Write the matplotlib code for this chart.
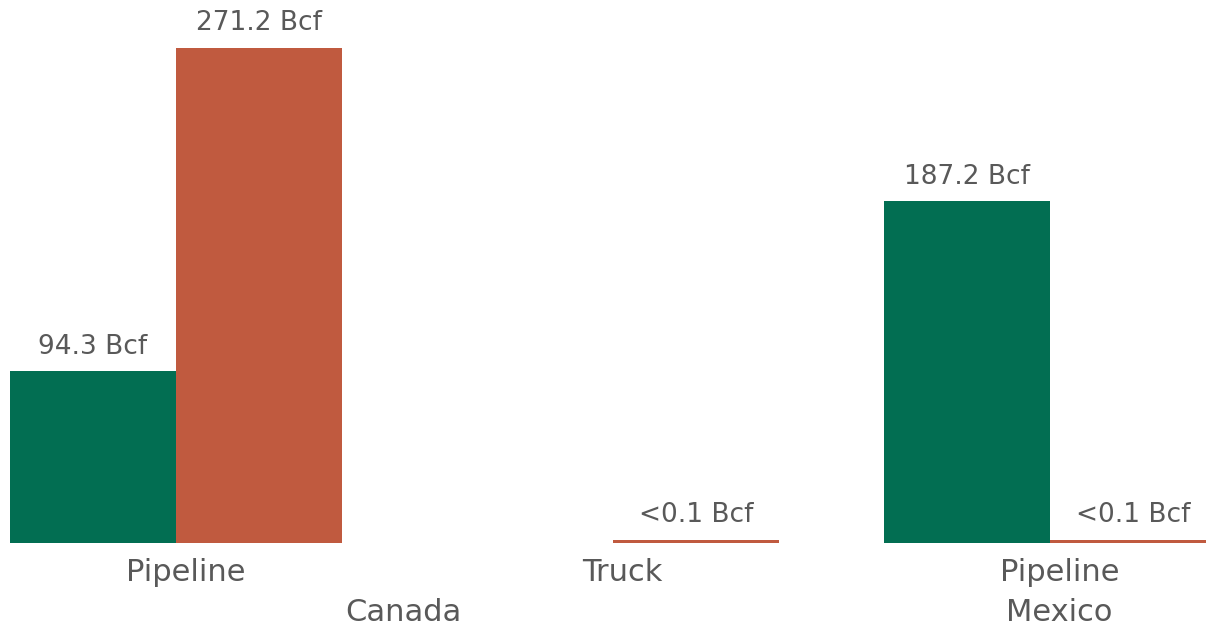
import numpy as np
import matplotlib
matplotlib.use("Agg")
import matplotlib.pyplot as plt

# data (Bcf)
categories = ["Pipeline", "Truck", "Pipeline"]
countries = ["Canada", "Mexico"]
green_vals = [94.3, 0.0, 187.2]
orange_vals = [271.2, 0.05, 0.05]
green_labels = ["94.3 Bcf", "", "187.2 Bcf"]
orange_labels = ["271.2 Bcf", "<0.1 Bcf", "<0.1 Bcf"]

green = "#026E52"
orange = "#C05A3F"
grey = "#595959"

fig = plt.figure(figsize=(12.06, 6.29), dpi=100)
ax = fig.add_axes([10 / 1206, 86 / 629, 1196 / 1206, 543 / 629])

x = np.arange(len(categories))
w = 0.38
# very small values still drawn as a thin visible line
min_vis = 1.6
g_plot = [v if v == 0 or v >= min_vis else min_vis for v in green_vals]
o_plot = [v if v >= min_vis else min_vis for v in orange_vals]

ax.bar(x - w / 2, g_plot, w, color=green, clip_on=False)
ax.bar(x + w / 2, o_plot, w, color=orange, clip_on=True)

for i in range(len(x)):
    if green_labels[i]:
        ax.text(x[i] - w / 2, g_plot[i] + 6, green_labels[i], ha="center", va="bottom",
                fontsize=19, color=grey)
    ax.text(x[i] + w / 2, o_plot[i] + 6.5, orange_labels[i], ha="center", va="bottom",
            fontsize=19, color=grey)

ax.set_xlim(-w, 2 + 156 / 437)
ax.set_ylim(0, 297.5)
ax.axis("off")

trans = ax.get_xaxis_transform()
for i, c in enumerate(categories):
    ax.text(x[i] + 0.022, -0.055, c, transform=trans, ha="center", va="center",
            fontsize=22, color=grey, clip_on=False)
ax.text(0.52, -0.128, countries[0], transform=trans, ha="center", va="center",
        fontsize=22, color=grey, clip_on=False)
ax.text(2.022, -0.128, countries[1], transform=trans, ha="center", va="center",
        fontsize=22, color=grey, clip_on=False)

fig.savefig("out.png", dpi=100)
